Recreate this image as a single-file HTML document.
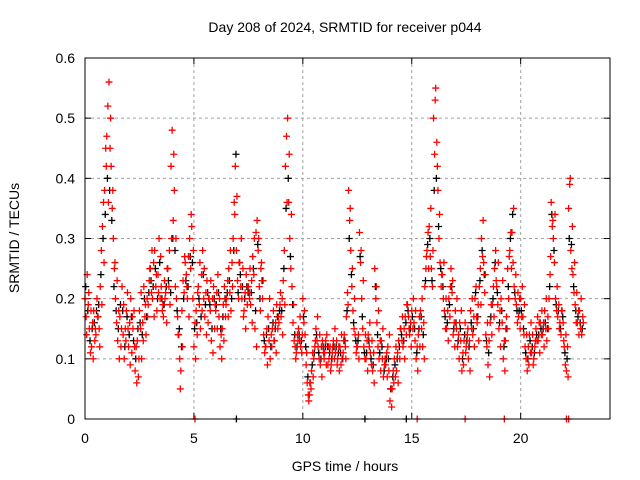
<!DOCTYPE html>
<html><head><meta charset="utf-8"><style>
body{margin:0;background:#fff;}
svg{display:block;font-family:"Liberation Sans",sans-serif;}
</style></head><body>
<svg id="chart" width="640" height="480">
<text x="345" y="32" font-size="14" text-anchor="middle">Day 208 of 2024, SRMTID for receiver p044</text>
<text x="345" y="471" font-size="14" text-anchor="middle">GPS time / hours</text>
<text transform="translate(19,238) rotate(-90)" font-size="14" text-anchor="middle">SRMTID / TECUs</text>
<g id="grid"></g>
<g id="ticks"></g>
<g id="marks"></g>
<rect x="85" y="58" width="525" height="361" fill="none" stroke="#000" stroke-width="1"/>
</svg>
<script>
const xTicks=[0,5,10,15,20];
const yTicks=[0,0.1,0.2,0.3,0.4,0.5,0.6];
const yTickLabels=["0","0.1","0.2","0.3","0.4","0.5","0.6"];
const dt=0.1;
const redA=[0.20,0.24,0.15,0.12,0.18,0.14,0.17,0.22,0.32,0.38,
0.47,0.56,0.42,0.30,0.20,0.13,0.17,0.22,0.10,0.18,
0.12,0.20,0.15,0.08,0.13,0.18,0.10,0.22,0.14,0.19,
0.25,0.20,0.28,0.18,0.30,0.22,0.17,0.21,0.25,0.19,
0.48,0.38,0.20,0.14,0.08,0.23,0.26,0.20,0.30,0.32,
0.12,0.18,0.22,0.15,0.28,0.17,0.23,0.20,0.13,0.22,
0.18,0.24,0.12,0.15,0.22,0.20,0.25,0.18,0.30,0.42,
0.23,0.26,0.20,0.18,0.24,0.22,0.19,0.27,0.15,0.33,
0.22,0.26,0.14,0.12,0.17,0.10,0.15,0.13,0.19,0.16,
0.17,0.23,0.42,0.50,0.30,0.22,0.13,0.11,0.15,0.12,
0.20,0.14,0.06,0.04,0.08,0.10,0.15,0.12,0.09,0.13,
0.11,0.14,0.10,0.09,0.13,0.11,0.10,0.12,0.10,0.14,
0.17,0.38,0.28,0.18,0.14,0.12,0.31,0.20,0.12,0.10,
0.14,0.11,0.08,0.25,0.16,0.10,0.13,0.07,0.09,0.12,
0.03,0.05,0.10,0.08,0.13,0.15,0.12,0.17,0.19,0.14,
0.18,0.16,0.10,0.14,0.18,0.12,0.22,0.28,0.32,0.25,
0.50,0.55,0.38,0.26,0.24,0.18,0.15,0.20,0.25,0.14,
0.18,0.12,0.16,0.08,0.13,0.12,0.10,0.18,0.14,0.20,
0.16,0.22,0.30,0.26,0.14,0.09,0.16,0.19,0.25,0.22,
0.15,0.20,0.10,0.13,0.25,0.28,0.31,0.22,0.19,0.17,
0.20,0.17,0.12,0.08,0.14,0.11,0.10,0.15,0.13,0.16,
0.14,0.18,0.13,0.20,0.36,0.30,0.20,0.17,0.16,0.18,
0.12,0.08,0.35,0.28,0.24,0.19,0.16,0.18,0.14];
const redB=[0.17,0.19,0.11,0.16,0.13,0.20,0.15,0.28,0.36,0.45,
0.52,0.45,0.35,0.25,0.16,0.18,0.12,0.14,0.15,0.21,
0.16,0.11,0.18,0.12,0.07,0.15,0.16,0.17,0.20,0.23,
0.21,0.26,0.22,0.24,0.20,0.18,0.23,0.16,0.22,0.42,
0.33,0.22,0.17,0.10,0.18,0.21,0.24,0.27,0.25,0.20,
0.16,0.14,0.19,0.24,0.20,0.21,0.16,0.18,0.20,0.15,
0.21,0.17,0.14,0.19,0.17,0.23,0.21,0.26,0.36,0.28,
0.20,0.22,0.25,0.21,0.19,0.20,0.23,0.24,0.31,0.28,
0.18,0.20,0.11,0.15,0.13,0.14,0.18,0.16,0.15,0.19,
0.20,0.28,0.47,0.36,0.25,0.16,0.12,0.14,0.13,0.11,
0.16,0.09,0.04,0.06,0.11,0.12,0.13,0.10,0.12,0.11,
0.13,0.09,0.12,0.11,0.10,0.13,0.12,0.09,0.11,0.12,
0.21,0.33,0.22,0.15,0.11,0.14,0.26,0.15,0.10,0.13,
0.12,0.09,0.11,0.20,0.12,0.13,0.10,0.09,0.11,0.08,
0.05,0.08,0.07,0.11,0.10,0.13,0.15,0.14,0.17,0.16,
0.15,0.13,0.12,0.17,0.15,0.16,0.25,0.31,0.27,0.22,
0.44,0.46,0.30,0.22,0.20,0.15,0.18,0.17,0.21,0.16,
0.15,0.14,0.13,0.11,0.16,0.14,0.13,0.15,0.17,0.22,
0.19,0.25,0.27,0.21,0.12,0.13,0.19,0.22,0.28,0.19,
0.18,0.16,0.13,0.17,0.20,0.31,0.26,0.20,0.16,0.20,
0.17,0.14,0.10,0.12,0.11,0.14,0.12,0.13,0.16,0.14,
0.16,0.15,0.17,0.24,0.32,0.26,0.18,0.19,0.14,0.16,
0.09,0.12,0.39,0.25,0.21,0.16,0.18,0.15,0.17];
const redC=[0.14,0.21,0.18,0.10,0.15,0.17,0.12,0.19,0.26,0.42,
0.36,0.50,0.38,0.26,0.23,0.10,0.15,0.19,0.13,0.15,
0.09,0.17,0.12,0.06,0.10,0.21,0.13,0.19,0.17,0.25,
0.28,0.17,0.24,0.21,0.27,0.19,0.20,0.25,0.28,0.30,
0.44,0.30,0.14,0.05,0.12,0.27,0.22,0.17,0.34,0.28,
0.10,0.21,0.26,0.18,0.25,0.14,0.20,0.23,0.11,0.19,
0.15,0.20,0.10,0.13,0.19,0.17,0.28,0.22,0.34,0.37,
0.26,0.30,0.17,0.15,0.21,0.25,0.16,0.30,0.12,0.30,
0.25,0.23,0.12,0.09,0.20,0.12,0.13,0.11,0.17,0.21,
0.14,0.19,0.36,0.44,0.34,0.19,0.10,0.13,0.17,0.14,
0.18,0.11,0.03,0.05,0.07,0.13,0.17,0.14,0.07,0.10,
0.09,0.12,0.08,0.12,0.15,0.09,0.08,0.14,0.13,0.10,
0.19,0.35,0.25,0.20,0.12,0.10,0.28,0.23,0.14,0.08,
0.16,0.13,0.06,0.22,0.18,0.08,0.15,0.10,0.07,0.14,
0.02,0.06,0.12,0.06,0.15,0.17,0.10,0.19,0.15,0.12,
0.20,0.18,0.08,0.12,0.20,0.10,0.27,0.25,0.35,0.28,
0.53,0.42,0.34,0.24,0.26,0.20,0.13,0.22,0.23,0.12,
0.20,0.10,0.18,0.09,0.11,0.15,0.08,0.20,0.12,0.17,
0.13,0.19,0.33,0.24,0.16,0.07,0.14,0.17,0.23,0.26,
0.12,0.23,0.08,0.15,0.27,0.25,0.35,0.24,0.21,0.15,
0.22,0.19,0.14,0.09,0.16,0.09,0.13,0.17,0.11,0.18,
0.12,0.20,0.15,0.27,0.33,0.34,0.22,0.15,0.18,0.13,
0.14,0.07,0.40,0.32,0.26,0.21,0.14,0.20,0.16];
const blackV=[0.22,0.18,0.13,0.15,0.16,0.18,0.19,0.24,0.30,0.34,
0.40,0.38,0.33,0.22,0.18,0.15,0.19,0.18,0.12,0.17,
0.14,0.17,0.13,0.10,0.15,0.16,0.14,0.20,0.17,0.21,
0.23,0.22,0.25,0.20,0.26,0.20,0.19,0.22,0.23,0.21,
0.30,0.28,0.18,0.15,0.12,0.20,0.23,0.22,0.27,0.26,
0.15,0.16,0.20,0.17,0.24,0.19,0.21,0.19,0.15,0.20,
0.19,0.21,0.15,0.17,0.20,0.21,0.23,0.20,0.28,0.44,
0.21,0.24,0.22,0.20,0.22,0.21,0.21,0.25,0.18,0.29,
0.20,0.23,0.13,0.14,0.15,0.12,0.16,0.15,0.17,0.18,
0.18,0.25,0.35,0.40,0.27,0.19,0.14,0.12,0.14,0.13,
0.17,0.12,0.07,0.06,0.09,0.11,0.14,0.11,0.10,0.12,
0.12,0.12,0.11,0.10,0.12,0.12,0.11,0.11,0.10,0.13,
0.18,0.30,0.24,0.16,0.13,0.13,0.27,0.17,0.11,0.11,
0.13,0.10,0.09,0.22,0.14,0.11,0.12,0.08,0.10,0.10,
0.05,0.07,0.09,0.10,0.12,0.14,0.13,0.16,0.18,0.15,
0.17,0.15,0.11,0.15,0.17,0.14,0.23,0.29,0.30,0.23,
0.38,0.40,0.32,0.25,0.22,0.17,0.16,0.19,0.22,0.15,
0.16,0.13,0.15,0.10,0.14,0.13,0.12,0.16,0.15,0.21,
0.17,0.23,0.28,0.24,0.13,0.11,0.17,0.20,0.26,0.21,
0.16,0.18,0.12,0.15,0.22,0.30,0.34,0.21,0.18,0.18,
0.18,0.15,0.11,0.10,0.13,0.12,0.11,0.14,0.14,0.15,
0.15,0.16,0.15,0.22,0.34,0.28,0.19,0.18,0.15,0.17,
0.11,0.10,0.30,0.29,0.22,0.18,0.17,0.16,0.15];
const redZeroTimes=[5.05,15.25,17.45,19.25,22.1,22.2];
const blackZeroTimes=[6.95,12.85,14.75];

const NS="http://www.w3.org/2000/svg";
const X0=85,X1=610,Y0=419,Y1=58,XMAX=24.1,YMAX=0.6;
function sx(v){return X0+v/XMAX*(X1-X0);}
function sy(v){return Y0-v/YMAX*(Y0-Y1);}
function mk(tag,attrs,parent){const e=document.createElementNS(NS,tag);for(const k in attrs)e.setAttribute(k,attrs[k]);parent.appendChild(e);return e;}
const grid=document.getElementById('grid'),ticks=document.getElementById('ticks'),marks=document.getElementById('marks');
xTicks.forEach(v=>{
  const x=sx(v);
  if(v>0){const g=mk('line',{x1:x,x2:x,y1:Y1,y2:Y0,stroke:'#a0a0a0','stroke-dasharray':'3,3'},grid);
  
  }
  mk('line',{x1:x,x2:x,y1:Y0,y2:Y0-6,stroke:'#000'},ticks);
  mk('line',{x1:x,x2:x,y1:Y1,y2:Y1+6,stroke:'#000'},ticks);
  const t=mk('text',{x:x,y:Y0+24,'font-size':14,'text-anchor':'middle'},ticks);
  t.textContent=v;
  
  
});
yTicks.forEach((v,i)=>{
  const y=sy(v);
  if(v>0&&v<YMAX){const g=mk('line',{x1:X0,x2:X1,y1:y,y2:y,stroke:'#a0a0a0','stroke-dasharray':'3,3'},grid);
  
  }
  mk('line',{x1:X0,x2:X0+6,y1:y,y2:y,stroke:'#000'},ticks);
  mk('line',{x1:X1,x2:X1-6,y1:y,y2:y,stroke:'#000'},ticks);
  const t=mk('text',{x:X0-10,y:y+5,'font-size':14,'text-anchor':'end'},ticks);
  t.textContent=yTickLabels[i];
  
  
});
function plus(t,v,col,name){
  const x=sx(t),y=sy(v);
  const p=mk('path',{d:`M${x-3.5},${y}h7M${x},${y-3.5}v7`,stroke:col,'stroke-width':1.3,fill:'none'},marks);
  
  
}
blackV.forEach((v,i)=>plus(i*dt+0.03,v,'#000','black-point'));
blackZeroTimes.forEach(t=>plus(t,0,'#000','black-point'));
redA.forEach((v,i)=>plus(i*dt,v,'#ff0000','red-point'));
redB.forEach((v,i)=>plus(i*dt+0.05,v,'#ff0000','red-point'));
redC.forEach((v,i)=>plus(i*dt+0.075,v,'#ff0000','red-point'));
redZeroTimes.forEach(t=>plus(t,0,'#ff0000','red-point'));
</script>
</body></html>
